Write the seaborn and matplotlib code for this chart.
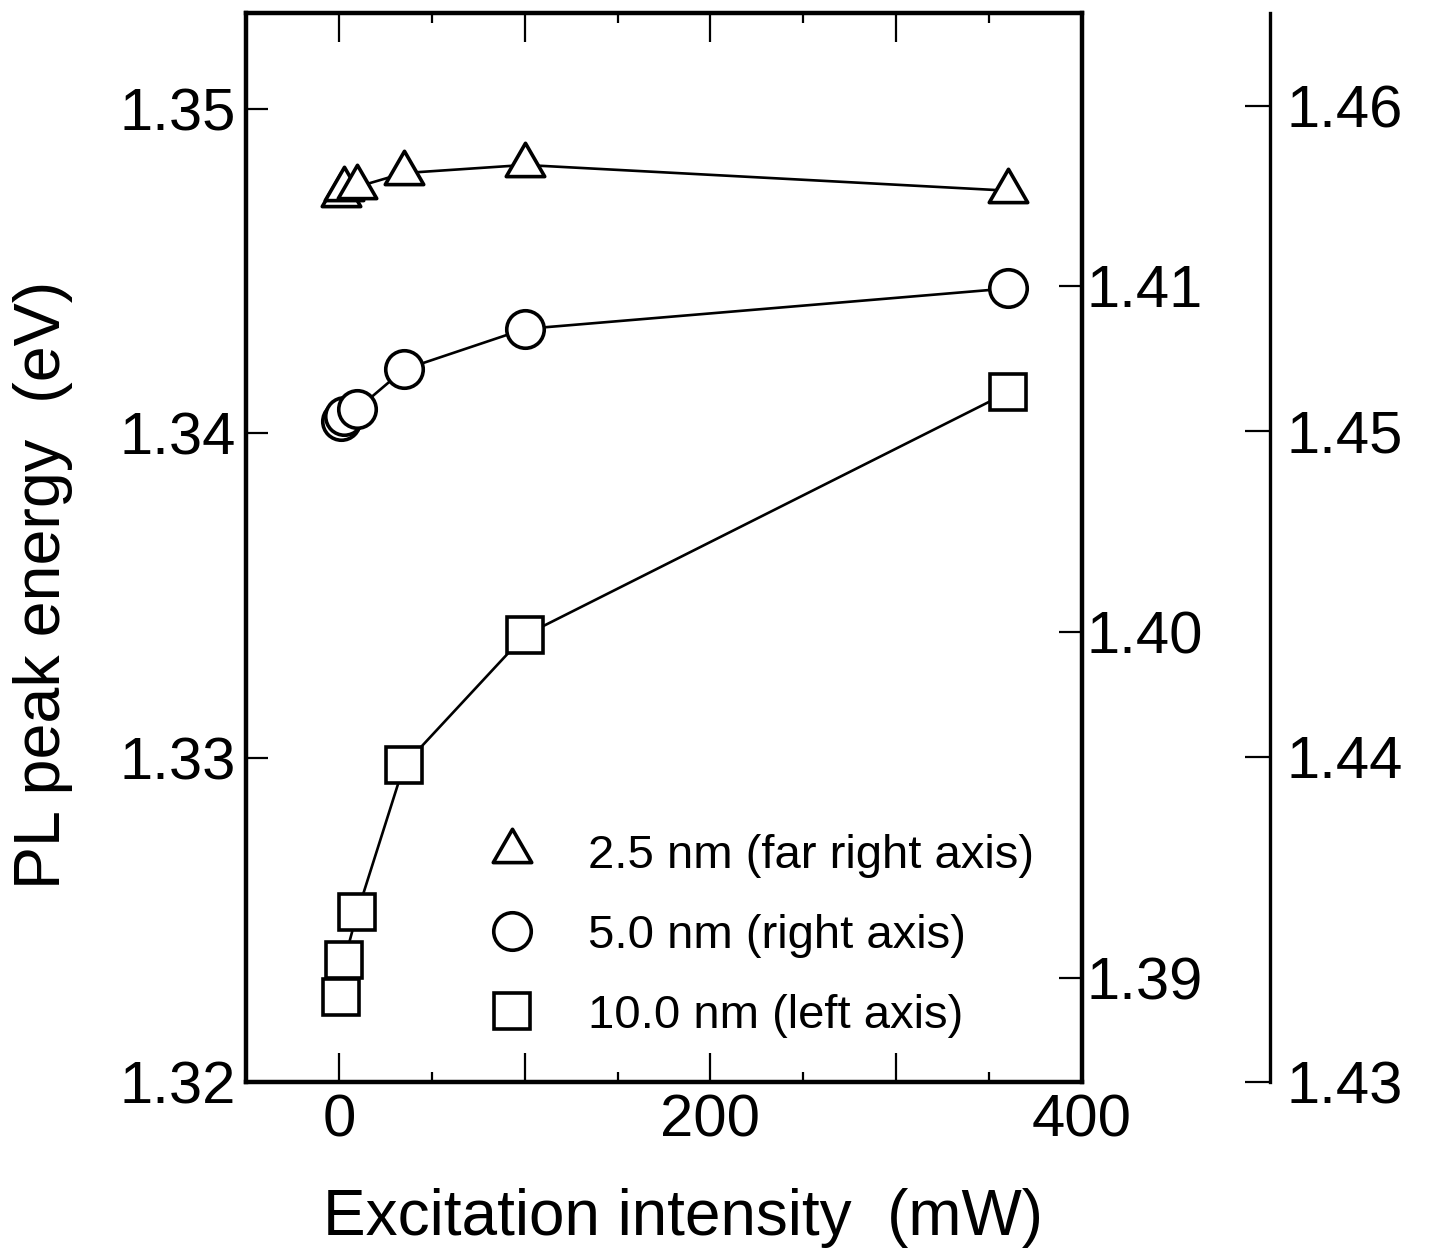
import matplotlib
matplotlib.use("Agg")
import matplotlib.pyplot as plt
import seaborn as sns
from matplotlib.path import Path
from matplotlib.lines import Line2D
from matplotlib.ticker import FixedLocator, MultipleLocator, FormatStrFormatter

# Excitation intensity (mW) and PL peak energies (eV) for three well widths
excitation_mw = [1, 3, 10, 35, 100, 360]
energy_10nm = [1.32262, 1.32376, 1.32524, 1.32976, 1.33377, 1.34126]
energy_5nm = [1.40609, 1.40624, 1.40644, 1.40758, 1.40875, 1.40992]
energy_2p5nm = [1.45728, 1.45745, 1.45752, 1.45794, 1.45819, 1.45740]

series_labels = ["2.5 nm (far right axis)", "5.0 nm (right axis)", "10.0 nm (left axis)"]

left_ticks = [1.32, 1.33, 1.34, 1.35]
right_ticks = [1.39, 1.40, 1.41]
far_right_ticks = [1.43, 1.44, 1.45, 1.46]
x_ticks = [0, 100, 200, 300, 400]
x_tick_labels = ["0", "", "200", "", "400"]

sns.set_style("ticks")
plt.rcParams["font.family"] = ["Liberation Sans", "DejaVu Sans"]
plt.rcParams.update({
    "text.color": "black",
    "axes.labelcolor": "black",
    "xtick.color": "black",
    "ytick.color": "black",
    "axes.edgecolor": "black",
})

fig = plt.figure(figsize=(14.32, 12.54), dpi=100)
ax = fig.add_axes([0.1718, 0.1372, 0.5838, 0.8524])
ax2 = ax.twinx()
ax3 = ax.twinx()
ax3.spines["right"].set_position(("axes", 1.2249))

# equilateral triangle centred on its centroid
tri_verts = [(0, 1.1547), (-1, -0.5774), (1, -0.5774), (0, 1.1547)]
triangle = Path(tri_verts, closed=True)

line_kw = dict(color="black", linewidth=1.9, mfc="white", mec="black",
               mew=2.6, legend=False, errorbar=None)

sns.lineplot(x=excitation_mw, y=energy_10nm, ax=ax, marker="s", ms=26.5, **line_kw)
sns.lineplot(x=excitation_mw, y=energy_5nm, ax=ax2, marker="o", ms=27, **line_kw)
sns.lineplot(x=excitation_mw, y=energy_2p5nm, ax=ax3, marker=triangle, ms=32, **line_kw)

ax.set_xlim(-50, 400)
ax.set_ylim(1.32, 1.35296)
ax2.set_ylim(1.38699, 1.41788)
ax3.set_ylim(1.43, 1.46286)

tick_fs = 43
ax.xaxis.set_major_locator(FixedLocator(x_ticks))
ax.set_xticklabels(x_tick_labels)
ax.xaxis.set_minor_locator(MultipleLocator(50))
ax.yaxis.set_major_locator(FixedLocator(left_ticks))
ax.yaxis.set_major_formatter(FormatStrFormatter("%.2f"))
ax2.yaxis.set_major_locator(FixedLocator(right_ticks))
ax2.yaxis.set_major_formatter(FormatStrFormatter("%.2f"))
ax3.yaxis.set_major_locator(FixedLocator(far_right_ticks))
ax3.yaxis.set_major_formatter(FormatStrFormatter("%.2f"))

ax.tick_params(axis="x", which="major", direction="in", top=True, length=21,
               width=1.6, labelsize=tick_fs, pad=8, color="black", labelcolor="black")
ax.tick_params(axis="x", which="minor", direction="in", top=True, length=7,
               width=1.6, color="black")
ax.tick_params(axis="y", which="major", direction="in", right=False, length=16,
               width=1.6, labelsize=tick_fs, pad=7, color="black", labelcolor="black")
ax2.tick_params(axis="y", which="major", direction="in", length=16.5,
                width=1.6, labelsize=tick_fs, pad=3.5, color="black", labelcolor="black")
ax3.tick_params(axis="y", which="major", direction="in", length=18,
                width=1.6, labelsize=tick_fs, pad=12, color="black", labelcolor="black")

for side in ["left", "top", "bottom"]:
    ax.spines[side].set_linewidth(3.2)
    ax.spines[side].set_color("black")
    ax2.spines[side].set_visible(False)
    ax3.spines[side].set_visible(False)
ax.spines["right"].set_visible(False)
ax2.spines["right"].set_linewidth(3.2)
ax2.spines["right"].set_color("black")
ax3.spines["right"].set_linewidth(2.4)
ax3.spines["right"].set_color("black")

ax.set_ylabel("")
ax2.set_ylabel("")
ax3.set_ylabel("")
ax.set_xlabel("Excitation intensity  (mW)", fontsize=46, color="black")
ax.xaxis.set_label_coords(0.5227, -0.099)
fig.text(43 / 1432, 1 - 585 / 1254, "PL peak energy  (eV)", rotation=90,
         ha="center", va="center", fontsize=46.5, color="black")

handles = [
    Line2D([], [], linestyle="none", marker=triangle, ms=32, mfc="white", mec="black", mew=2.6),
    Line2D([], [], linestyle="none", marker="o", ms=27, mfc="white", mec="black", mew=2.6),
    Line2D([], [], linestyle="none", marker="s", ms=26.5, mfc="white", mec="black", mew=2.6),
]
leg = ax3.legend(handles, series_labels, loc="upper left",
                 bbox_to_anchor=((484 - 246) / 836, (1082 - 834) / 1069),
                 frameon=False, fontsize=34, handlelength=1.2, handletextpad=1.0,
                 labelspacing=0.76, borderpad=0, borderaxespad=0)
for t in leg.get_texts():
    t.set_color("black")

fig.savefig("out.png", dpi=100)
